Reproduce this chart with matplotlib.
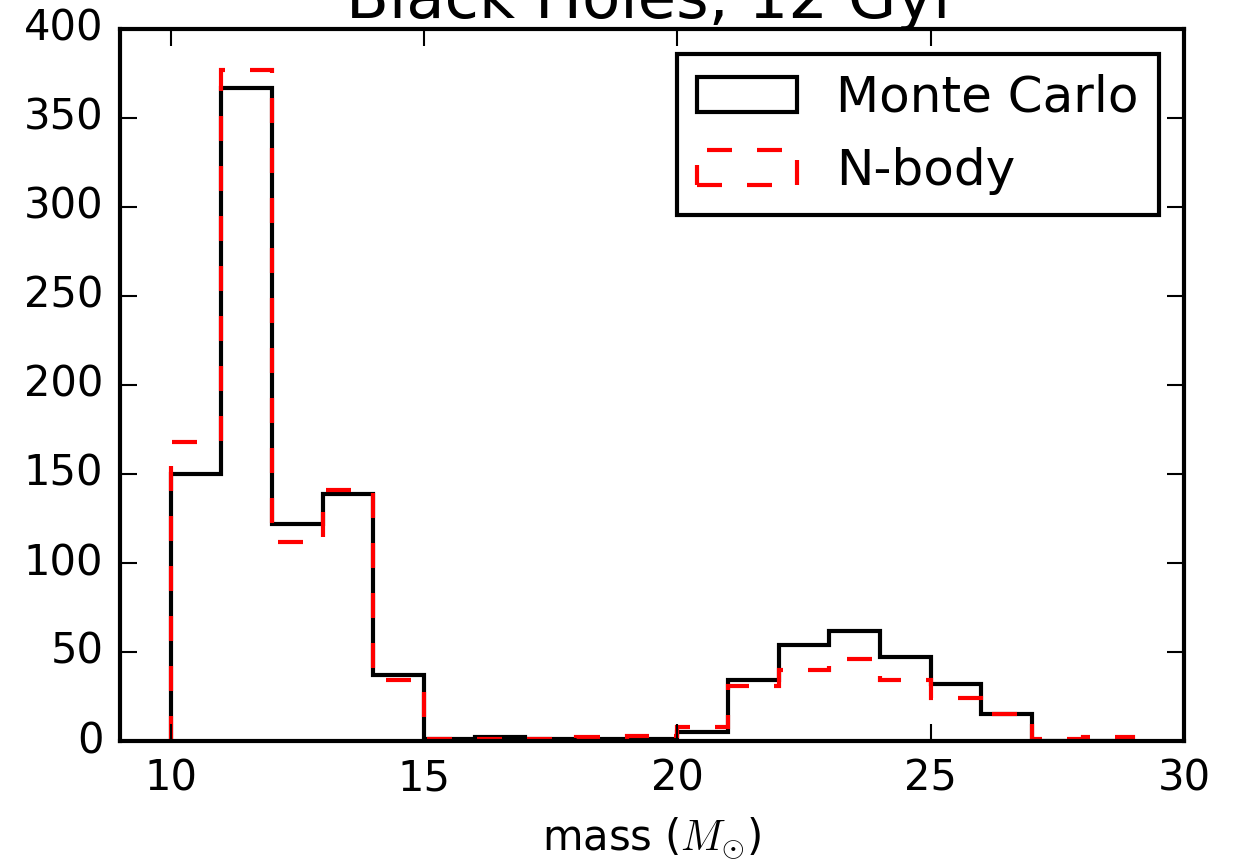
import matplotlib
matplotlib.use("Agg")
import matplotlib.pyplot as plt
import matplotlib.transforms as mtransforms
import numpy as np

plt.style.use("classic")

# Mass bins (solar masses) and black-hole counts per bin
bin_edges = np.arange(10, 30, 1)
monte_carlo_counts = [150, 367, 122, 139, 37, 1, 2, 1, 1, 1,
                      5, 34, 54, 62, 47, 32, 15, 0, 0]
nbody_counts = [168, 377, 112, 141, 34, 1, 1, 1, 2, 3,
                8, 31, 40, 46, 34, 24, 15, 1, 2]

x_ticks = [10, 15, 20, 25, 30]
y_ticks = [0, 50, 100, 150, 200, 250, 300, 350, 400]

W, H, DPI = 1239, 865, 300
fig = plt.figure(figsize=(W / DPI, H / DPI), dpi=DPI, facecolor="white")
ax = fig.add_axes([120 / W, 1 - 741 / H, (1184 - 120) / W, (741 - 29) / H])

centers = 0.5 * (bin_edges[:-1] + bin_edges[1:])
ax.hist(centers, bins=bin_edges, weights=monte_carlo_counts,
        histtype="step", color="black", linewidth=1.0, label="Monte Carlo")
ax.hist(centers, bins=bin_edges, weights=nbody_counts,
        histtype="step", color="red", linewidth=1.0, linestyle="dashed",
        label="N-body")

ax.set_xlim(9, 30)
ax.set_ylim(0, 400)
ax.set_xticks(x_ticks)
ax.set_yticks(y_ticks)
ax.tick_params(axis="both", which="major", labelsize=10, direction="in",
               length=4, width=0.5, pad=4, top=True, right=True)
for spine in ax.spines.values():
    spine.set_linewidth(1.0)

ax.set_xlabel(r"mass ($M_{\odot}$)", fontsize=10, labelpad=4)

leg = ax.legend(loc="upper right", fontsize=12, frameon=True, fancybox=False)
leg.get_frame().set_linewidth(1.0)
leg.get_frame().set_edgecolor("black")

title_tr = mtransforms.offset_copy(ax.transAxes, fig=fig, x=0, y=11, units="dots")
ax.text(0.5, 1.0, "Black Holes, 12 Gyr", transform=title_tr,
        ha="center", va="baseline", fontsize=15, clip_on=False)

fig.savefig("out.png", dpi=DPI, facecolor="white")
